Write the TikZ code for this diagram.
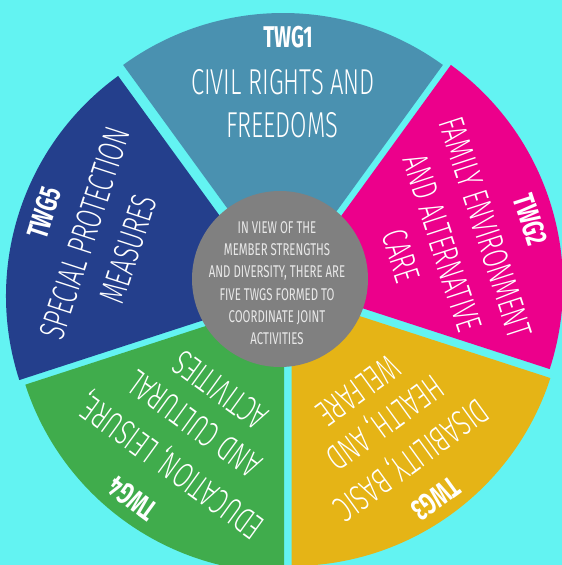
\documentclass[tikz,border=0pt]{standalone}
\usepackage{fontspec}
\usetikzlibrary{calc}
\IfFontExistsTF{Fira Sans Light}{\newfontfamily\thinf{Fira Sans Light}[FakeStretch=0.66]}{\newfontfamily\thinf{Fira Sans}[FakeStretch=0.66]}
\newfontfamily\boldf{Fira Sans}[FakeStretch=0.67]
\newfontfamily\regf{Fira Sans}[FakeStretch=0.67]
\definecolor{bg}{HTML}{63F3F2}
\definecolor{cA}{HTML}{4A91B0}
\definecolor{cB}{HTML}{EC008B}
\definecolor{cC}{HTML}{E5B416}
\definecolor{cD}{HTML}{40AC4C}
\definecolor{cE}{HTML}{243F8C}
\definecolor{hub}{HTML}{808080}
\definecolor{hubtext}{HTML}{E8E8E8}
\tikzset{
  ttl/.style={font=\thinf\fontsize{36}{36}\selectfont, text=white, inner sep=0pt, text height=24.8pt, text depth=0pt},
  lbl/.style={font=\boldf\bfseries\fontsize{30}{30}\selectfont, text=white, inner sep=0pt, text height=20.7pt, text depth=0pt},
  hubline/.style={font=\regf\fontsize{17}{17}\selectfont, text=hubtext, inner sep=0pt, text height=11.7pt, text depth=0pt},
}
\begin{document}
\begin{tikzpicture}[x=1pt,y=1pt]
\fill[bg] (0,0) rectangle (562,-565);
\useasboundingbox (0,0) rectangle (562,-565);
% apexes of the exploded wedges
\coordinate (a1) at (283,-285);
\coordinate (a2) at (291,-285);
\coordinate (a3) at (291.7,-294);
\coordinate (a4) at (284,-300.6);
\coordinate (a5) at (278,-296);
% wedges
\fill[cA] (a1) -- ($(a1)+(54:272)$) arc[start angle=54,end angle=126,radius=272] -- cycle;
\fill[cB] (a2) -- ($(a2)+(-18:272)$) arc[start angle=-18,end angle=54,radius=272] -- cycle;
\fill[cC] (a3) -- ($(a3)+(270:272)$) arc[start angle=270,end angle=342,radius=272] -- cycle;
\fill[cD] (a4) -- ($(a4)+(198:272)$) arc[start angle=198,end angle=270,radius=272] -- cycle;
\fill[cE] (a5) -- ($(a5)+(126:272)$) arc[start angle=126,end angle=198,radius=272] -- cycle;
% hub
\fill[hub] (280,-279) circle[radius=88];
% hub text
\node[hubline] (h1) at (277,-227.5) {IN VIEW OF THE};
\node[hubline] (h2) at (277,-249.8) {MEMBER STRENGTHS};
\node[hubline] (h3) at (277,-272) {AND DIVERSITY, THERE ARE};
\node[hubline] (h4) at (277,-294.5) {FIVE TWGS FORMED TO};
\node[hubline] (h5) at (277,-317) {COORDINATE JOINT};
\node[hubline] (h6) at (277,-339) {ACTIVITIES};
% TWG1
\node[lbl] (l1) at ($(a1)+(90:247.5)+(0:5)$) {TWG1};
\node[ttl] (t1a) at ($(a1)+(90:202.5)$) {CIVIL RIGHTS AND};
\node[ttl] (t1b) at ($(a1)+(90:159.5)+(0:-1)$) {FREEDOMS};
% TWG2
\node[lbl,rotate=-72] (l2) at ($(a2)+(18:248)+(-72:12)$) {TWG2};
\node[ttl,rotate=-72] (t2a) at ($(a2)+(18:203)+(-72:5.4)$) {FAMILY ENVIRONMENT};
\node[ttl,rotate=-72] (t2b) at ($(a2)+(18:157)+(-72:7)$) {AND ALTERNATIVE};
\node[ttl,rotate=-72] (t2c) at ($(a2)+(18:113.6)+(-72:6.4)$) {CARE};
% TWG3
\node[lbl,rotate=216] (l3) at ($(a3)+(306:250)+(216:4)$) {TWG3};
\node[ttl,rotate=216] (t3a) at ($(a3)+(306:205)+(216:0.6)$) {DISABILITY, BASIC};
\node[ttl,rotate=216] (t3b) at ($(a3)+(306:159.5)$) {HEALTH, AND};
\node[ttl,rotate=216] (t3c) at ($(a3)+(306:117)+(216:2.7)$) {WELFARE};
% TWG4
\node[lbl,rotate=144] (l4) at ($(a4)+(234:249)+(144:6)$) {TWG4};
\node[ttl,rotate=144] (t4a) at ($(a4)+(234:201)+(144:-6)$) {EDUCATION, LEISURE,};
\node[ttl,rotate=144] (t4b) at ($(a4)+(234:153)$) {AND CULTURAL};
\node[ttl,rotate=144] (t4c) at ($(a4)+(234:110)+(144:-1)$) {ACTIVITIES};
% TWG5
\node[lbl,rotate=72] (l5) at ($(a5)+(162:248)+(72:7)$) {TWG5};
\node[ttl,rotate=72] (t5a) at ($(a5)+(162:203)$) {SPECIAL PROTECTION};
\node[ttl,rotate=72] (t5b) at ($(a5)+(162:157)+(72:-1.5)$) {MEASURES};
\end{tikzpicture}
\end{document}
